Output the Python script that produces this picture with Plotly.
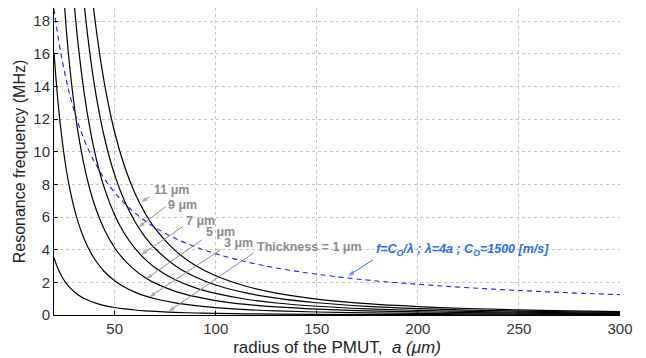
import plotly.graph_objects as go

# radius a (um)
radius = [20, 22, 24, 26, 28, 30, 32, 35, 38, 41, 45, 50, 55, 60, 65, 70, 80, 90, 100,
          115, 130, 150, 175, 200, 225, 250, 275, 300]

# resonance frequency (MHz) per membrane thickness
f_t1 = [3.50, 2.83, 2.33, 1.95, 1.66, 1.42, 1.23, 1.01, 0.842, 0.711, 0.578, 0.458, 0.371, 0.305,
        0.256, 0.217, 0.161, 0.124, 0.098, 0.072, 0.055, 0.040, 0.028, 0.021, 0.016, 0.013, 0.010, 0.0086]
f_t3 = [16.07, 13.00, 10.72, 8.97, 7.61, 6.53, 5.66, 4.64, 3.86, 3.26, 2.65, 2.10, 1.70, 1.40,
        1.17, 0.996, 0.740, 0.570, 0.451, 0.331, 0.252, 0.183, 0.130, 0.097, 0.075, 0.059, 0.048, 0.039]
f_t5 = [31.5, 25.5, 21.0, 17.61, 14.94, 12.82, 11.11, 9.10, 7.58, 6.41, 5.21, 4.12, 3.34, 2.75,
        2.30, 1.95, 1.45, 1.12, 0.885, 0.649, 0.494, 0.360, 0.255, 0.190, 0.146, 0.116, 0.094, 0.077]
f_t7 = [46.9, 37.9, 31.3, 26.2, 22.2, 19.05, 16.51, 13.53, 11.27, 9.52, 7.74, 6.13, 4.96, 4.09,
        3.42, 2.90, 2.16, 1.66, 1.32, 0.965, 0.735, 0.535, 0.380, 0.282, 0.217, 0.172, 0.139, 0.115]
f_t9 = [65.6, 53.1, 43.8, 36.6, 31.1, 26.7, 23.1, 18.94, 15.78, 13.33, 10.84, 8.58, 6.95, 5.73,
        4.79, 4.07, 3.02, 2.33, 1.84, 1.35, 1.03, 0.749, 0.532, 0.395, 0.304, 0.241, 0.195, 0.161]
f_t11 = [85.6, 69.2, 57.1, 47.8, 40.5, 34.8, 30.1, 24.7, 20.57, 17.38, 14.14, 11.19, 9.06, 7.47,
         6.25, 5.30, 3.94, 3.03, 2.40, 1.76, 1.34, 0.976, 0.693, 0.516, 0.397, 0.314, 0.254, 0.210]
# acoustic wavelength limit f = C0 / lambda, lambda = 4a
f_acoustic = [18.75, 17.05, 15.63, 14.42, 13.39, 12.5, 11.72, 10.71, 9.87, 9.15, 8.33, 7.5, 6.82,
              6.25, 5.77, 5.36, 4.69, 4.17, 3.75, 3.26, 2.88, 2.5, 2.14, 1.88, 1.67, 1.5, 1.36, 1.25]

x_ticks = [50, 100, 150, 200, 250, 300]
y_ticks = [0, 2, 4, 6, 8, 10, 12, 14, 16, 18]

thick_labels = ["11 μm", "9 μm", "7 μm", "5 μm", "3 μm", "Thickness = 1 μm"]
# label anchor (a, f) and arrow tail/tip (a, f)
label_pos = [(68.4, 7.67), (75.4, 6.75), (84.3, 5.77), (94.1, 5.09), (102.9, 4.42), (119.2, 4.17)]
arrow_tail = [(67.4, 7.25), (75.3, 6.64), (83.8, 5.42), (93.1, 4.6), (102.3, 3.99), (118.7, 3.80)]
arrow_tip = [(63.0, 6.9), (61.7, 5.36), (62.9, 3.67), (65.5, 2.2), (67.0, 1.09), (76.5, 0.2)]

blue_label = "f=C<sub>O</sub>/λ ; λ=4a ; C<sub>O</sub>=1500 [m/s]"
blue_label_pos = (178.1, 3.99)
blue_tail = (177.7, 3.37)
blue_tip = (165.4, 2.39)

gray = "#8c8c8c"
blue_txt = "#2f6bf5"

fig = go.Figure()
for ys in [f_t1, f_t3, f_t5, f_t7, f_t9, f_t11]:
    fig.add_trace(go.Scatter(x=radius, y=ys, mode="lines",
                             line=dict(color="black", width=1.2, shape="spline"),
                             showlegend=False, hoverinfo="skip"))
fig.add_trace(go.Scatter(x=radius, y=f_acoustic, mode="lines",
                         line=dict(color="#1a1aff", width=1.1, dash="5px,4px", shape="spline"),
                         showlegend=False, hoverinfo="skip"))


def add_arrow(tail, tip, color):
    fig.add_trace(go.Scatter(
        x=[tail[0], tip[0]], y=[tail[1], tip[1]], mode="lines+markers",
        line=dict(color=color, width=1),
        marker=dict(symbol="arrow", angleref="previous", size=[0, 7], color=color,
                    line=dict(width=0)),
        showlegend=False, hoverinfo="skip", cliponaxis=False))


for tail, tip in zip(arrow_tail, arrow_tip):
    add_arrow(tail, tip, gray)
add_arrow(blue_tail, blue_tip, blue_txt)

annots = []
for txt, (lx, ly) in zip(thick_labels, label_pos):
    annots.append(dict(x=lx, y=ly, text="<b>" + txt + "</b>", showarrow=False,
                       xanchor="left", yanchor="middle",
                       font=dict(family="Arial, Liberation Sans", size=12.5, color=gray)))
annots.append(dict(x=blue_label_pos[0], y=blue_label_pos[1], text="<b><i>" + blue_label + "</i></b>",
                   showarrow=False, xanchor="left", yanchor="middle",
                   font=dict(family="Arial, Liberation Sans", size=12.5, color=blue_txt)))

# the page body adds an 8px offset, margins compensate for it
fig.update_layout(
    width=646, height=358,
    margin=dict(l=46, r=34, t=0, b=51),
    paper_bgcolor="white", plot_bgcolor="white",
    font=dict(family="Arial, Liberation Sans", color="#222222"),
    annotations=annots,
)
fig.update_xaxes(range=[20, 300], tickvals=x_ticks, ticks="inside", ticklen=4, tickcolor="black",
                 showline=True, linecolor="black", linewidth=1, mirror=False,
                 showgrid=True, gridcolor="#c4c4c4", griddash="dot", gridwidth=1,
                 zeroline=False, tickfont=dict(size=15, color="#333333"),
                 title=dict(text="radius of the PMUT,  <i>a (μm)</i>", font=dict(size=17, color="#222222"),
                            standoff=5))
fig.update_yaxes(range=[0, 18.8], tickvals=y_ticks, ticks="inside", ticklen=4, tickcolor="black",
                 showline=True, linecolor="black", linewidth=1,
                 showgrid=True, gridcolor="#c4c4c4", griddash="dot", gridwidth=1,
                 zeroline=False, tickfont=dict(size=15, color="#333333"),
                 title=dict(text="Resonance frequency (MHz)", font=dict(size=16, color="#222222"),
                            standoff=3))

fig.write_html("out.html")
